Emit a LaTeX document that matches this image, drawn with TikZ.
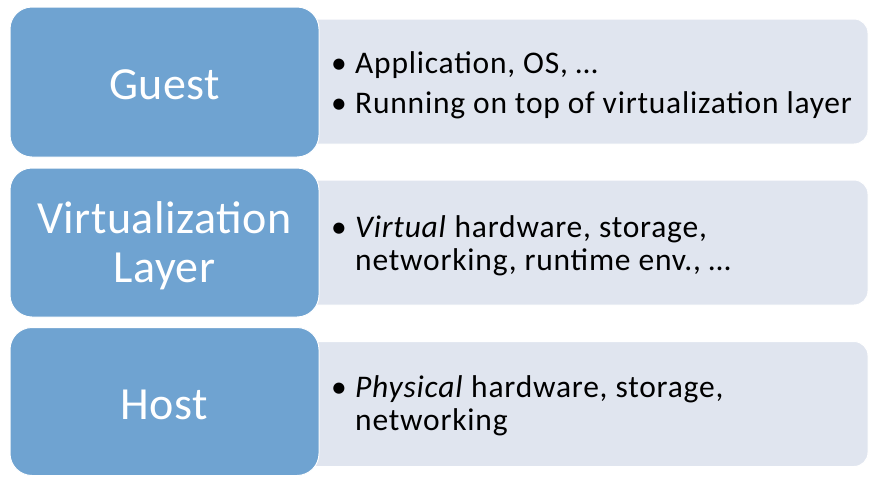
\documentclass[tikz,border=0pt]{standalone}
\usepackage{fontspec}
\setmainfont{Carlito}
\newfontfamily\smallfam[LetterSpace=2.5]{Carlito}
\newfontfamily\bigfam[LetterSpace=1]{Carlito}
\definecolor{boxblue}{HTML}{6FA3D1}
\definecolor{boxgray}{HTML}{E0E5EF}
\begin{document}
\begin{tikzpicture}[x=1pt,y=1pt,
  leftbox/.style={rectangle, rounded corners=22pt, fill=boxblue, draw=white, line width=1pt, minimum width=309pt, inner sep=0pt},
  rightbox/.style={rectangle, rounded corners=14pt, fill=boxgray, draw=white, line width=1pt, minimum width=568pt, minimum height=125pt, inner sep=0pt},
  bigtxt/.style={inner sep=0pt, anchor=base, text=white, font=\bigfam\fontsize{46}{50}\selectfont},
  smalltxt/.style={inner sep=0pt, anchor=base west, text=black, font=\smallfam\fontsize{31.5}{35}\selectfont}
]
\useasboundingbox (0,0) rectangle (869,-477);
% right boxes (behind)
\node[rightbox] (r1) at (584,-81.5) {};
\node[rightbox] (r2) at (584,-242.5) {};
\node[rightbox] (r3) at (584,-404) {};
% left boxes
\node[leftbox, minimum height=150pt] (l1) at (164.5,-82) {};
\node[leftbox, minimum height=149pt] (l2) at (164.5,-242.5) {};
\node[leftbox, minimum height=148pt] (l3) at (164.5,-401.5) {};
% left labels
\node[bigtxt] (t1) at (164.5,-99) {Guest};
\node[bigtxt] (t2a) at (164.5,-233) {Virtualization};
\node[bigtxt] (t2b) at (164.5,-282) {Layer};
\node[bigtxt] (t3) at (164.5,-419.3) {Host};
% right texts
\node[smalltxt] (b1a) at (331,-73) {•};
\node[smalltxt] (s1a) at (355,-73) {Application, OS, …};
\node[smalltxt] (b1b) at (331,-113) {•};
\node[smalltxt] (s1b) at (355,-113) {Running on top of virtualization layer};
\node[smalltxt] (b2a) at (331,-237) {•};
\node[smalltxt] (s2a) at (355,-237) {\textit{Virtual} hardware, storage,};
\node[smalltxt] (s2b) at (355,-270) {networking, runtime env., …};
\node[smalltxt] (b3a) at (331,-397) {•};
\node[smalltxt] (s3a) at (355,-397) {\textit{Physical} hardware, storage,};
\node[smalltxt] (s3b) at (355,-430) {networking};
\end{tikzpicture}
\end{document}
